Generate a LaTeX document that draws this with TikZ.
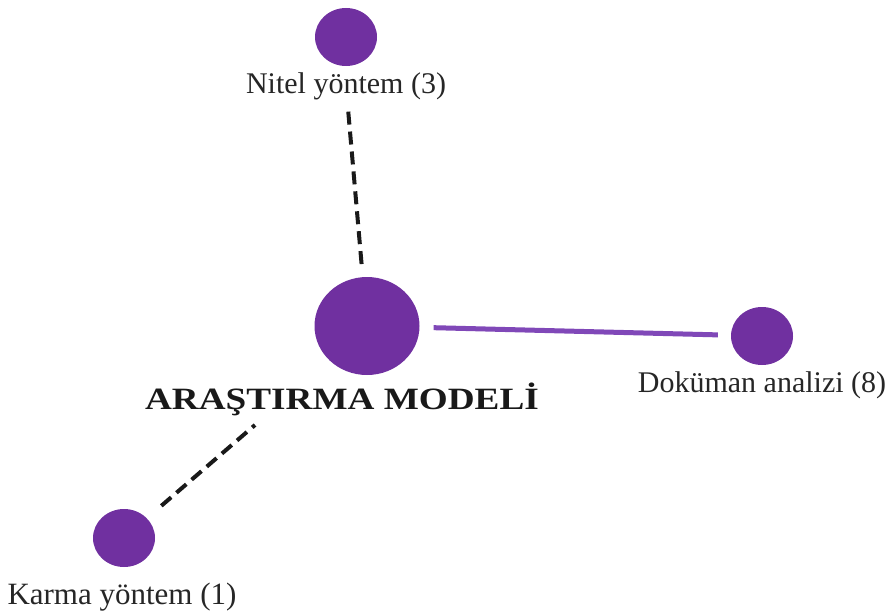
\documentclass[tikz,border=0pt]{standalone}
\usepackage{fontspec}
\setmainfont{Liberation Serif}
\usetikzlibrary{shapes.geometric}
\definecolor{dotpurple}{RGB}{112,48,160}
\definecolor{linepurple}{RGB}{128,72,184}
\tikzset{
  dot/.style={ellipse, fill=dotpurple, draw=none, inner sep=0pt, minimum width=62pt, minimum height=58pt},
  bigdot/.style={ellipse, fill=dotpurple, draw=none, inner sep=0pt, minimum width=105pt, minimum height=98pt},
  lbl/.style={anchor=base, inner sep=2pt, font=\fontsize{30}{34}\selectfont, text=black!85},
  dashlink/.style={draw=black!90, line width=4pt, dash pattern=on 13pt off 7pt},
  solidlink/.style={draw=linepurple, line width=5pt}
}
\begin{document}
\begin{tikzpicture}[x=1pt,y=-1pt]
\useasboundingbox (0,0) rectangle (885,610);
\node[bigdot] (center) at (367,326) {};
\node[dot] (nitel) at (346,37) {};
\node[dot] (dokuman) at (762,336) {};
\node[dot] (karma) at (124,538) {};
\node[lbl] (nitelL) at (346,93) {Nitel yöntem (3)};
\node[lbl] (dokumanL) at (762,392) {Doküman analizi (8)};
\node[lbl, font=\fontsize{31}{34}\selectfont] (karmaL) at (122,604) {Karma yöntem (1)};
\node[anchor=base, inner sep=0pt, text=black!90, font=\bfseries\fontsize{31}{34}\selectfont] (title) at (342,409) {\scalebox{1.2}[1]{ARAŞTIRMA MODELİ}};
\coordinate (kTop) at (255,425);
\draw[dashlink, shorten <=10pt, shorten >=10pt] (nitelL) -- (center);
\draw[solidlink, shorten <=14pt, shorten >=13pt] (center) -- (dokuman);
\draw[dashlink, shorten <=19pt] (karma) -- (kTop);
\end{tikzpicture}
\end{document}
